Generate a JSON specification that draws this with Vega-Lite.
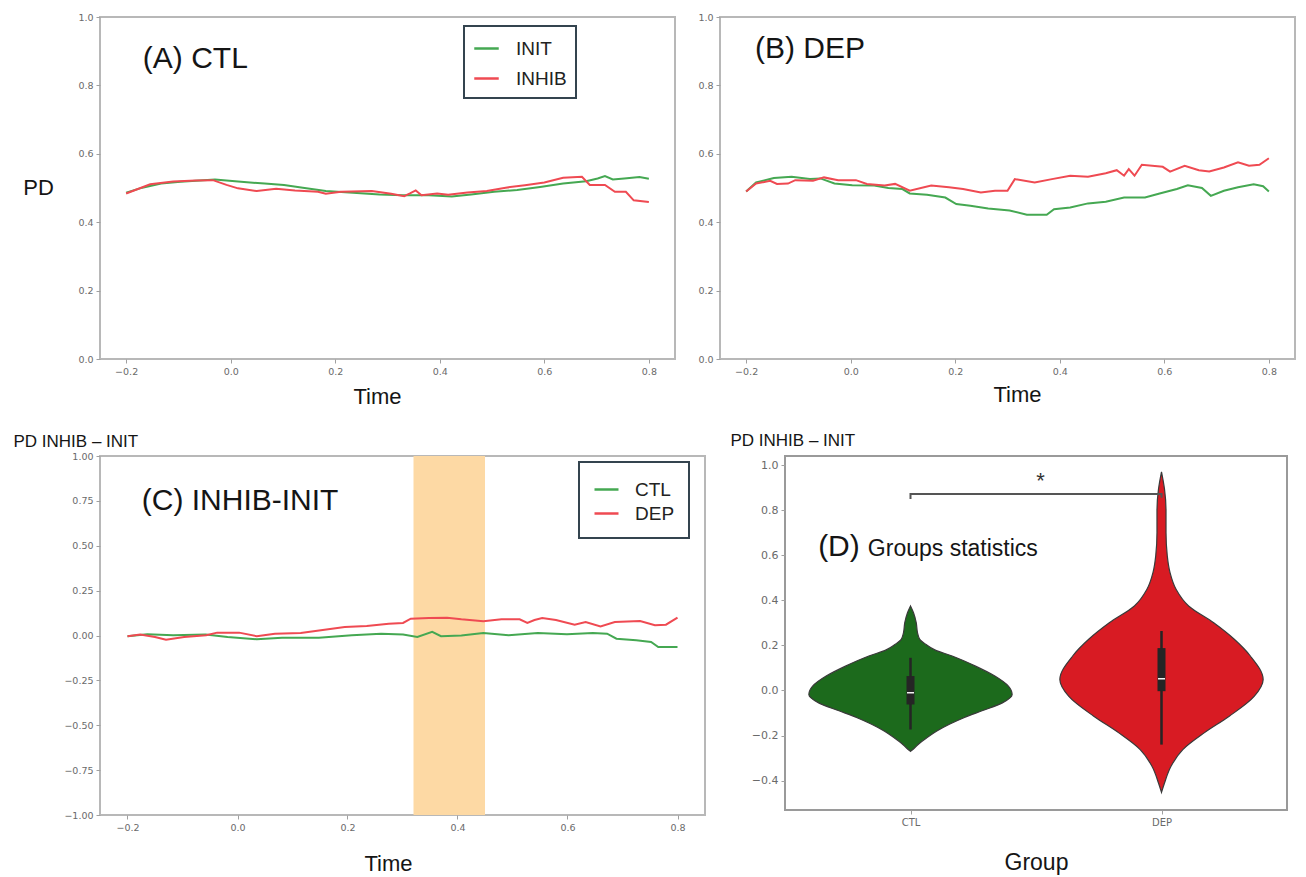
{
 "$schema": "https://vega.github.io/schema/vega-lite/v6.json",
 "padding": {"left": 12, "top": 11, "right": 5, "bottom": 5},
 "background": "white",
 "bounds": "full",
 "spacing": 22,
 "resolve": {"scale": {"color": "independent"}, "legend": {"color": "independent"}},
 "config": {
  "view": {"stroke": "#b8b8b8", "strokeWidth": 2},
  "axis": {"grid": false, "domain": false, "tickColor": "#a0a0a0", "tickSize": 4, "labelFont": "DejaVu Sans", "labelFontSize": 9.5, "labelColor": "#6a6a6a", "labelPadding": 3, "titleFont": "Liberation Sans", "titleFontWeight": "normal", "titleColor": "#151515", "titleFontSize": 22, "labelOverlap": false},
  "legend": {"title": null, "orient": "none", "strokeColor": "#34444f", "strokeWidth": 2, "fillColor": "white", "symbolType": "stroke", "symbolStrokeWidth": 2.5, "labelFont": "Liberation Sans", "labelColor": "#222", "labelFontSize": 19},
  "text": {"font": "Liberation Sans", "color": "#151515"}
 },
 "datasets": {
  "a": [
   {"t":-0.2,"pd":0.486,"s":"INIT"},{"t":-0.169,"pd":0.501,"s":"INIT"},{"t":-0.133,"pd":0.513,"s":"INIT"},{"t":-0.096,"pd":0.518,"s":"INIT"},{"t":-0.059,"pd":0.522,"s":"INIT"},{"t":-0.03,"pd":0.525,"s":"INIT"},{"t":0.014,"pd":0.519,"s":"INIT"},{"t":0.065,"pd":0.513,"s":"INIT"},{"t":0.102,"pd":0.509,"s":"INIT"},{"t":0.138,"pd":0.501,"s":"INIT"},{"t":0.182,"pd":0.491,"s":"INIT"},{"t":0.234,"pd":0.486,"s":"INIT"},{"t":0.285,"pd":0.481,"s":"INIT"},{"t":0.329,"pd":0.479,"s":"INIT"},{"t":0.379,"pd":0.479,"s":"INIT"},{"t":0.423,"pd":0.475,"s":"INIT"},{"t":0.46,"pd":0.481,"s":"INIT"},{"t":0.504,"pd":0.489,"s":"INIT"},{"t":0.548,"pd":0.494,"s":"INIT"},{"t":0.592,"pd":0.503,"s":"INIT"},{"t":0.636,"pd":0.513,"s":"INIT"},{"t":0.68,"pd":0.52,"s":"INIT"},{"t":0.702,"pd":0.528,"s":"INIT"},{"t":0.716,"pd":0.535,"s":"INIT"},{"t":0.731,"pd":0.525,"s":"INIT"},{"t":0.753,"pd":0.528,"s":"INIT"},{"t":0.782,"pd":0.532,"s":"INIT"},{"t":0.8,"pd":0.527,"s":"INIT"},
   {"t":-0.2,"pd":0.484,"s":"INHIB"},{"t":-0.154,"pd":0.511,"s":"INHIB"},{"t":-0.11,"pd":0.519,"s":"INHIB"},{"t":-0.067,"pd":0.522,"s":"INHIB"},{"t":-0.034,"pd":0.523,"s":"INHIB"},{"t":-0.008,"pd":0.509,"s":"INHIB"},{"t":0.014,"pd":0.499,"s":"INHIB"},{"t":0.05,"pd":0.491,"s":"INHIB"},{"t":0.087,"pd":0.498,"s":"INHIB"},{"t":0.123,"pd":0.493,"s":"INHIB"},{"t":0.167,"pd":0.489,"s":"INHIB"},{"t":0.182,"pd":0.483,"s":"INHIB"},{"t":0.211,"pd":0.489,"s":"INHIB"},{"t":0.27,"pd":0.491,"s":"INHIB"},{"t":0.307,"pd":0.483,"s":"INHIB"},{"t":0.332,"pd":0.476,"s":"INHIB"},{"t":0.343,"pd":0.484,"s":"INHIB"},{"t":0.354,"pd":0.493,"s":"INHIB"},{"t":0.365,"pd":0.479,"s":"INHIB"},{"t":0.395,"pd":0.484,"s":"INHIB"},{"t":0.416,"pd":0.48,"s":"INHIB"},{"t":0.453,"pd":0.487,"s":"INHIB"},{"t":0.49,"pd":0.491,"s":"INHIB"},{"t":0.526,"pd":0.501,"s":"INHIB"},{"t":0.563,"pd":0.508,"s":"INHIB"},{"t":0.6,"pd":0.516,"s":"INHIB"},{"t":0.636,"pd":0.53,"s":"INHIB"},{"t":0.672,"pd":0.533,"s":"INHIB"},{"t":0.687,"pd":0.509,"s":"INHIB"},{"t":0.716,"pd":0.509,"s":"INHIB"},{"t":0.735,"pd":0.489,"s":"INHIB"},{"t":0.756,"pd":0.489,"s":"INHIB"},{"t":0.771,"pd":0.464,"s":"INHIB"},{"t":0.8,"pd":0.459,"s":"INHIB"}
  ],
  "b": [
   {"t":-0.2,"pd":0.49,"s":"INIT"},{"t":-0.181,"pd":0.516,"s":"INIT"},{"t":-0.147,"pd":0.529,"s":"INIT"},{"t":-0.113,"pd":0.533,"s":"INIT"},{"t":-0.078,"pd":0.526,"s":"INIT"},{"t":-0.058,"pd":0.528,"s":"INIT"},{"t":-0.031,"pd":0.513,"s":"INIT"},{"t":0.003,"pd":0.508,"s":"INIT"},{"t":0.045,"pd":0.507,"s":"INIT"},{"t":0.072,"pd":0.5,"s":"INIT"},{"t":0.099,"pd":0.497,"s":"INIT"},{"t":0.113,"pd":0.484,"s":"INIT"},{"t":0.146,"pd":0.48,"s":"INIT"},{"t":0.181,"pd":0.472,"s":"INIT"},{"t":0.202,"pd":0.453,"s":"INIT"},{"t":0.229,"pd":0.448,"s":"INIT"},{"t":0.263,"pd":0.44,"s":"INIT"},{"t":0.304,"pd":0.434,"s":"INIT"},{"t":0.337,"pd":0.422,"s":"INIT"},{"t":0.375,"pd":0.422,"s":"INIT"},{"t":0.389,"pd":0.438,"s":"INIT"},{"t":0.42,"pd":0.443,"s":"INIT"},{"t":0.454,"pd":0.455,"s":"INIT"},{"t":0.488,"pd":0.46,"s":"INIT"},{"t":0.523,"pd":0.472,"s":"INIT"},{"t":0.563,"pd":0.472,"s":"INIT"},{"t":0.591,"pd":0.484,"s":"INIT"},{"t":0.624,"pd":0.497,"s":"INIT"},{"t":0.645,"pd":0.508,"s":"INIT"},{"t":0.672,"pd":0.5,"s":"INIT"},{"t":0.689,"pd":0.477,"s":"INIT"},{"t":0.714,"pd":0.492,"s":"INIT"},{"t":0.741,"pd":0.502,"s":"INIT"},{"t":0.771,"pd":0.511,"s":"INIT"},{"t":0.789,"pd":0.505,"s":"INIT"},{"t":0.8,"pd":0.49,"s":"INIT"},
   {"t":-0.2,"pd":0.49,"s":"INHIB"},{"t":-0.181,"pd":0.513,"s":"INHIB"},{"t":-0.154,"pd":0.521,"s":"INHIB"},{"t":-0.141,"pd":0.512,"s":"INHIB"},{"t":-0.12,"pd":0.513,"s":"INHIB"},{"t":-0.106,"pd":0.523,"s":"INHIB"},{"t":-0.072,"pd":0.521,"s":"INHIB"},{"t":-0.051,"pd":0.531,"s":"INHIB"},{"t":-0.024,"pd":0.523,"s":"INHIB"},{"t":0.01,"pd":0.523,"s":"INHIB"},{"t":0.031,"pd":0.512,"s":"INHIB"},{"t":0.065,"pd":0.507,"s":"INHIB"},{"t":0.085,"pd":0.512,"s":"INHIB"},{"t":0.113,"pd":0.492,"s":"INHIB"},{"t":0.154,"pd":0.507,"s":"INHIB"},{"t":0.188,"pd":0.502,"s":"INHIB"},{"t":0.215,"pd":0.497,"s":"INHIB"},{"t":0.249,"pd":0.487,"s":"INHIB"},{"t":0.276,"pd":0.492,"s":"INHIB"},{"t":0.3,"pd":0.492,"s":"INHIB"},{"t":0.314,"pd":0.526,"s":"INHIB"},{"t":0.352,"pd":0.516,"s":"INHIB"},{"t":0.385,"pd":0.526,"s":"INHIB"},{"t":0.42,"pd":0.536,"s":"INHIB"},{"t":0.454,"pd":0.533,"s":"INHIB"},{"t":0.488,"pd":0.543,"s":"INHIB"},{"t":0.509,"pd":0.552,"s":"INHIB"},{"t":0.523,"pd":0.536,"s":"INHIB"},{"t":0.532,"pd":0.555,"s":"INHIB"},{"t":0.543,"pd":0.536,"s":"INHIB"},{"t":0.557,"pd":0.568,"s":"INHIB"},{"t":0.597,"pd":0.562,"s":"INHIB"},{"t":0.611,"pd":0.548,"s":"INHIB"},{"t":0.639,"pd":0.565,"s":"INHIB"},{"t":0.666,"pd":0.552,"s":"INHIB"},{"t":0.686,"pd":0.548,"s":"INHIB"},{"t":0.714,"pd":0.56,"s":"INHIB"},{"t":0.741,"pd":0.575,"s":"INHIB"},{"t":0.762,"pd":0.565,"s":"INHIB"},{"t":0.782,"pd":0.568,"s":"INHIB"},{"t":0.8,"pd":0.587,"s":"INHIB"}
  ],
  "c": [
   {"t":-0.2,"d":-0.004,"g":"CTL"},{"t":-0.164,"d":0.007,"g":"CTL"},{"t":-0.117,"d":0.001,"g":"CTL"},{"t":-0.058,"d":0.005,"g":"CTL"},{"t":-0.018,"d":-0.008,"g":"CTL"},{"t":0.035,"d":-0.021,"g":"CTL"},{"t":0.081,"d":-0.012,"g":"CTL"},{"t":0.148,"d":-0.012,"g":"CTL"},{"t":0.208,"d":0.001,"g":"CTL"},{"t":0.261,"d":0.01,"g":"CTL"},{"t":0.301,"d":0.005,"g":"CTL"},{"t":0.327,"d":-0.008,"g":"CTL"},{"t":0.354,"d":0.02,"g":"CTL"},{"t":0.37,"d":-0.004,"g":"CTL"},{"t":0.407,"d":0.0,"g":"CTL"},{"t":0.447,"d":0.014,"g":"CTL"},{"t":0.493,"d":0.001,"g":"CTL"},{"t":0.546,"d":0.014,"g":"CTL"},{"t":0.599,"d":0.007,"g":"CTL"},{"t":0.646,"d":0.014,"g":"CTL"},{"t":0.672,"d":0.01,"g":"CTL"},{"t":0.689,"d":-0.018,"g":"CTL"},{"t":0.725,"d":-0.027,"g":"CTL"},{"t":0.752,"d":-0.036,"g":"CTL"},{"t":0.765,"d":-0.064,"g":"CTL"},{"t":0.8,"d":-0.064,"g":"CTL"},
   {"t":-0.2,"d":-0.004,"g":"DEP"},{"t":-0.177,"d":0.005,"g":"DEP"},{"t":-0.15,"d":-0.008,"g":"DEP"},{"t":-0.13,"d":-0.023,"g":"DEP"},{"t":-0.097,"d":-0.008,"g":"DEP"},{"t":-0.057,"d":0.001,"g":"DEP"},{"t":-0.037,"d":0.016,"g":"DEP"},{"t":0.003,"d":0.016,"g":"DEP"},{"t":0.035,"d":-0.004,"g":"DEP"},{"t":0.068,"d":0.01,"g":"DEP"},{"t":0.115,"d":0.014,"g":"DEP"},{"t":0.155,"d":0.031,"g":"DEP"},{"t":0.195,"d":0.047,"g":"DEP"},{"t":0.235,"d":0.053,"g":"DEP"},{"t":0.275,"d":0.066,"g":"DEP"},{"t":0.301,"d":0.07,"g":"DEP"},{"t":0.315,"d":0.094,"g":"DEP"},{"t":0.348,"d":0.097,"g":"DEP"},{"t":0.381,"d":0.099,"g":"DEP"},{"t":0.407,"d":0.09,"g":"DEP"},{"t":0.447,"d":0.079,"g":"DEP"},{"t":0.48,"d":0.09,"g":"DEP"},{"t":0.513,"d":0.09,"g":"DEP"},{"t":0.527,"d":0.07,"g":"DEP"},{"t":0.54,"d":0.086,"g":"DEP"},{"t":0.554,"d":0.097,"g":"DEP"},{"t":0.579,"d":0.086,"g":"DEP"},{"t":0.613,"d":0.06,"g":"DEP"},{"t":0.633,"d":0.075,"g":"DEP"},{"t":0.66,"d":0.051,"g":"DEP"},{"t":0.686,"d":0.075,"g":"DEP"},{"t":0.732,"d":0.081,"g":"DEP"},{"t":0.759,"d":0.057,"g":"DEP"},{"t":0.779,"d":0.06,"g":"DEP"},{"t":0.8,"d":0.099,"g":"DEP"}
  ],
  "violin": [
   {"g":"CTL","v":0.375,"lo":0,"hi":0},{"g":"CTL","v":0.345,"lo":-0.012,"hi":0.012},{"g":"CTL","v":0.3,"lo":-0.023,"hi":0.023},{"g":"CTL","v":0.256,"lo":-0.028,"hi":0.028},{"g":"CTL","v":0.227,"lo":-0.037,"hi":0.037},{"g":"CTL","v":0.204,"lo":-0.062,"hi":0.062},{"g":"CTL","v":0.18,"lo":-0.097,"hi":0.097},{"g":"CTL","v":0.153,"lo":-0.166,"hi":0.166},{"g":"CTL","v":0.108,"lo":-0.259,"hi":0.259},{"g":"CTL","v":0.064,"lo":-0.336,"hi":0.336},{"g":"CTL","v":0.019,"lo":-0.39,"hi":0.39},{"g":"CTL","v":-0.018,"lo":-0.405,"hi":0.405},{"g":"CTL","v":-0.055,"lo":-0.366,"hi":0.366},{"g":"CTL","v":-0.09,"lo":-0.285,"hi":0.285},{"g":"CTL","v":-0.12,"lo":-0.215,"hi":0.215},{"g":"CTL","v":-0.15,"lo":-0.155,"hi":0.155},{"g":"CTL","v":-0.18,"lo":-0.105,"hi":0.105},{"g":"CTL","v":-0.21,"lo":-0.065,"hi":0.065},{"g":"CTL","v":-0.235,"lo":-0.035,"hi":0.035},{"g":"CTL","v":-0.255,"lo":-0.016,"hi":0.016},{"g":"CTL","v":-0.27,"lo":0,"hi":0},
   {"g":"DEP","v":0.97,"lo":1,"hi":1},{"g":"DEP","v":0.893,"lo":0.988,"hi":1.012},{"g":"DEP","v":0.8,"lo":0.982,"hi":1.018},{"g":"DEP","v":0.7,"lo":0.982,"hi":1.018},{"g":"DEP","v":0.597,"lo":0.977,"hi":1.023},{"g":"DEP","v":0.523,"lo":0.966,"hi":1.034},{"g":"DEP","v":0.449,"lo":0.942,"hi":1.058},{"g":"DEP","v":0.375,"lo":0.892,"hi":1.108},{"g":"DEP","v":0.3,"lo":0.792,"hi":1.208},{"g":"DEP","v":0.227,"lo":0.71,"hi":1.29},{"g":"DEP","v":0.153,"lo":0.646,"hi":1.354},{"g":"DEP","v":0.049,"lo":0.595,"hi":1.405},{"g":"DEP","v":-0.025,"lo":0.63,"hi":1.37},{"g":"DEP","v":-0.114,"lo":0.73,"hi":1.27},{"g":"DEP","v":-0.188,"lo":0.83,"hi":1.17},{"g":"DEP","v":-0.262,"lo":0.915,"hi":1.085},{"g":"DEP","v":-0.336,"lo":0.962,"hi":1.038},{"g":"DEP","v":-0.41,"lo":0.988,"hi":1.012},{"g":"DEP","v":-0.452,"lo":1,"hi":1}
  ],
  "box": [
   {"g":"CTL","pos":0,"wlo":-0.173,"whi":0.145,"q1":-0.062,"q3":0.064,"med":-0.01},
   {"g":"DEP","pos":1,"wlo":-0.24,"whi":0.264,"q1":-0.003,"q3":0.188,"med":0.052}
  ],
  "bracket": [
   {"k":1,"bx":0,"by":0.849},{"k":2,"bx":0,"by":0.871},{"k":3,"bx":1,"by":0.871},{"k":4,"bx":1,"by":0.855}
  ]
 },
 "vconcat": [
  {
   "hconcat": [
    {
     "width": 575, "height": 342,
     "layer": [
      {
       "data": {"name": "a"},
       "mark": {"type": "line", "strokeWidth": 2},
       "encoding": {
        "x": {"field": "t", "type": "quantitative", "scale": {"domain": [-0.25, 0.85], "nice": false, "zero": false},
              "axis": {"values": [-0.2, 0, 0.2, 0.4, 0.6, 0.8], "format": ".1f", "title": "Time", "titleX": 277, "titleY": 37, "titleBaseline": "middle"}},
        "y": {"field": "pd", "type": "quantitative", "scale": {"domain": [0, 1], "nice": false},
              "axis": {"values": [0, 0.2, 0.4, 0.6, 0.8, 1], "format": ".1f", "title": "PD", "titleAngle": 0, "titleX": -62, "titleY": 170, "titleAlign": "center", "titleBaseline": "middle"}},
        "color": {"field": "s", "type": "nominal", "scale": {"domain": ["INIT", "INHIB"], "range": ["#45a852", "#ef4a52"]},
                  "legend": {"legendX": 364, "legendY": 9, "padding": 9, "symbolSize": 600, "labelOffset": 16, "rowPadding": 6}}
       }
      },
      {
       "data": {"values": [{"label": "(A) CTL"}]},
       "mark": {"type": "text", "align": "left", "baseline": "alphabetic", "fontSize": 30},
       "encoding": {"x": {"datum": -0.168, "type": "quantitative"}, "y": {"datum": 0.852, "type": "quantitative"}, "text": {"field": "label"}}
      }
     ]
    },
    {
     "width": 575, "height": 342,
     "layer": [
      {
       "data": {"name": "b"},
       "mark": {"type": "line", "strokeWidth": 2},
       "encoding": {
        "x": {"field": "t", "type": "quantitative", "scale": {"domain": [-0.25, 0.85], "nice": false, "zero": false},
              "axis": {"values": [-0.2, 0, 0.2, 0.4, 0.6, 0.8], "format": ".1f", "title": "Time", "titleX": 297, "titleY": 35, "titleBaseline": "middle"}},
        "y": {"field": "pd", "type": "quantitative", "scale": {"domain": [0, 1], "nice": false},
              "axis": {"values": [0, 0.2, 0.4, 0.6, 0.8, 1], "format": ".1f", "title": null}},
        "color": {"field": "s", "type": "nominal", "scale": {"domain": ["INIT", "INHIB"], "range": ["#45a852", "#ef4a52"]}, "legend": null}
       }
      },
      {
       "data": {"values": [{"label": "(B) DEP"}]},
       "mark": {"type": "text", "align": "left", "baseline": "alphabetic", "fontSize": 30},
       "encoding": {"x": {"datum": -0.183, "type": "quantitative"}, "y": {"datum": 0.879, "type": "quantitative"}, "text": {"field": "label"}}
      }
     ]
    }
   ],
   "spacing": 45,
   "bounds": "flush",
   "resolve": {"scale": {"color": "independent"}, "legend": {"color": "independent"}}
  },
  {
   "hconcat": [
    {
     "width": 605, "height": 359,
     "layer": [
      {
       "data": {"values": [{"start": 0.32, "end": 0.45}]},
       "mark": {"type": "rect", "color": "#fdd9a4"},
       "encoding": {"x": {"field": "start", "type": "quantitative"}, "x2": {"field": "end"}}
      },
      {
       "data": {"name": "c"},
       "mark": {"type": "line", "strokeWidth": 2},
       "encoding": {
        "x": {"field": "t", "type": "quantitative", "scale": {"domain": [-0.25, 0.85], "nice": false, "zero": false},
              "axis": {"values": [-0.2, 0, 0.2, 0.4, 0.6, 0.8], "format": ".1f", "title": "Time", "titleX": 288, "titleY": 48, "titleBaseline": "middle"}},
        "y": {"field": "d", "type": "quantitative", "scale": {"domain": [-1, 1], "nice": false},
              "axis": {"values": [-1, -0.75, -0.5, -0.25, 0, 0.25, 0.5, 0.75, 1], "format": ".2f", "title": "PD INHIB – INIT", "titleFontSize": 17, "titleAngle": 0, "titleX": -87, "titleY": -15, "titleAlign": "left", "titleBaseline": "middle"}},
        "color": {"field": "g", "type": "nominal", "scale": {"domain": ["CTL", "DEP"], "range": ["#45a852", "#ef4a52"]},
                  "legend": {"legendX": 479, "legendY": 6, "padding": 14, "symbolSize": 576, "labelOffset": 15, "rowPadding": 0}}
       }
      },
      {
       "data": {"values": [{"label": "(C) INHIB-INIT"}]},
       "mark": {"type": "text", "align": "left", "baseline": "alphabetic", "fontSize": 30},
       "encoding": {"x": {"datum": -0.174, "type": "quantitative"}, "y": {"datum": 0.697, "type": "quantitative"}, "text": {"field": "label"}}
      }
     ]
    },
    {
     "width": 502, "height": 354,
     "view": {"stroke": "#9a9a9a", "strokeWidth": 2},
     "layer": [
      {
       "data": {"name": "violin"},
       "mark": {"type": "area", "orient": "horizontal", "interpolate": "monotone", "stroke": "#3a3a3a", "strokeWidth": 1.2, "fillOpacity": 1},
       "encoding": {
        "y": {"field": "v", "type": "quantitative", "scale": {"domain": [-0.53, 1.04], "nice": false, "zero": false},
              "axis": {"values": [-0.4, -0.2, 0, 0.2, 0.4, 0.6, 0.8, 1], "format": ".1f", "labelFontSize": 11, "title": "PD INHIB – INIT", "titleFontSize": 17, "titleAngle": 0, "titleX": -55, "titleY": -16, "titleAlign": "left", "titleBaseline": "middle"}},
        "x": {"field": "lo", "type": "quantitative", "scale": {"domain": [-0.5, 1.5], "nice": false, "zero": false},
              "axis": {"values": [0, 1], "labelExpr": "datum.value == 0 ? 'CTL' : 'DEP'", "labelFontSize": 10, "title": "Group", "titleFontSize": 23, "titleY": 52, "titleBaseline": "middle"}},
        "x2": {"field": "hi"},
        "color": {"field": "g", "type": "nominal", "scale": {"domain": ["CTL", "DEP"], "range": ["#1c6a1c", "#d81b23"]}, "legend": null}
       }
      },
      {
       "data": {"name": "box"},
       "mark": {"type": "rule", "color": "#252525", "strokeWidth": 2.5},
       "encoding": {"x": {"field": "pos", "type": "quantitative"}, "y": {"field": "wlo", "type": "quantitative"}, "y2": {"field": "whi"}}
      },
      {
       "data": {"name": "box"},
       "mark": {"type": "rule", "color": "#252525", "strokeWidth": 8},
       "encoding": {"x": {"field": "pos", "type": "quantitative"}, "y": {"field": "q1", "type": "quantitative"}, "y2": {"field": "q3"}}
      },
      {
       "data": {"name": "box"},
       "mark": {"type": "tick", "orient": "horizontal", "color": "#f2f2f2", "size": 7, "thickness": 1.5, "opacity": 1},
       "encoding": {"x": {"field": "pos", "type": "quantitative"}, "y": {"field": "med", "type": "quantitative"}}
      },
      {
       "data": {"name": "bracket"},
       "mark": {"type": "line", "color": "#555555", "strokeWidth": 2},
       "encoding": {"x": {"field": "bx", "type": "quantitative"}, "y": {"field": "by", "type": "quantitative"}, "order": {"field": "k"}}
      },
      {
       "data": {"values": [{"label": "*"}]},
       "mark": {"type": "text", "align": "center", "baseline": "alphabetic", "fontSize": 22, "color": "#333"},
       "encoding": {"x": {"datum": 0.518, "type": "quantitative"}, "y": {"datum": 0.896, "type": "quantitative"}, "text": {"field": "label"}}
      },
      {
       "data": {"values": [{"label": "(D)"}]},
       "mark": {"type": "text", "align": "left", "baseline": "alphabetic", "fontSize": 30},
       "encoding": {"x": {"datum": -0.368, "type": "quantitative"}, "y": {"datum": 0.597, "type": "quantitative"}, "text": {"field": "label"}}
      },
      {
       "data": {"values": [{"label": "Groups statistics"}]},
       "mark": {"type": "text", "align": "left", "baseline": "alphabetic", "fontSize": 23},
       "encoding": {"x": {"datum": -0.17, "type": "quantitative"}, "y": {"datum": 0.597, "type": "quantitative"}, "text": {"field": "label"}}
      }
     ]
    }
   ],
   "spacing": 80,
   "bounds": "flush",
   "resolve": {"scale": {"color": "independent"}, "legend": {"color": "independent"}}
  }
 ]
}
